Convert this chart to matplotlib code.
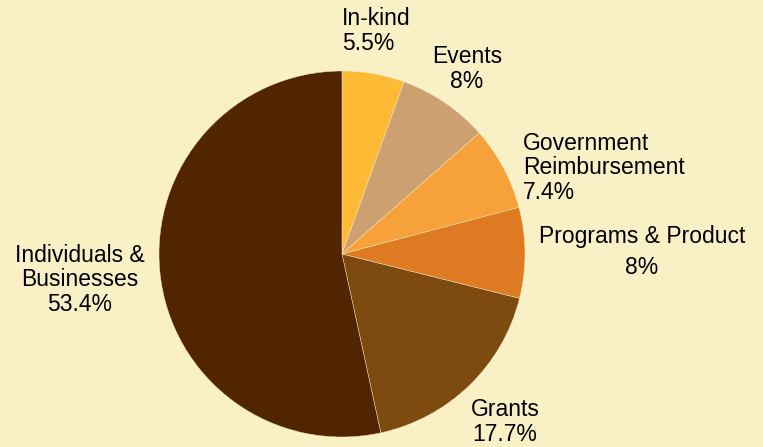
import matplotlib.pyplot as plt

# Revenue sources
sources = ['In-kind', 'Events', 'Government\nReimbursement', 'Programs & Product',
           'Grants', 'Individuals &\nBusinesses']
shares = [5.5, 8, 7.4, 8, 17.7, 53.4]
pct_labels = ['5.5%', '8%', '7.4%', '8%', '17.7%', '53.4%']
colors = ['#FDBA35', '#CCA070', '#F7A13A', '#DE7B22', '#7D4A0F', '#502500']

bg = '#FAF0C6'
plt.rcParams['font.family'] = ['Liberation Sans', 'DejaVu Sans']

fig = plt.figure(figsize=(7.63, 4.47), dpi=100, facecolor=bg)
ax = fig.add_axes([159 / 763, 10 / 447, 366 / 763, 366 / 447])
ax.set_facecolor(bg)
ax.pie(shares, colors=colors, startangle=90, counterclock=False, radius=1,
       wedgeprops={'edgecolor': bg, 'linewidth': 0.3})
ax.set_xlim(-1, 1)
ax.set_ylim(-1, 1)
ax.axis('off')

fs = 16.5
# label placement in pixels (x, y top-down, ha)
spots = [(342, 31, 'left'), (467, 69, 'center'), (523, 168, 'left'),
         (642, 252, 'center'), (505, 422, 'center'), (80, 280, 'center')]
for name, pct, (x, y, ha) in zip(sources, pct_labels, spots):
    if name.startswith('Programs'):
        fig.text(x / 763, 1 - 237 / 447, name, ha='center', va='center', fontsize=fs)
        fig.text(x / 763, 1 - 268 / 447, pct, ha='center', va='center', fontsize=fs)
    else:
        fig.text(x / 763, 1 - y / 447, name + '\n' + pct, ha=ha, va='center',
                 fontsize=fs, linespacing=1.1, multialignment=ha)

fig.savefig('out.png', dpi=100, facecolor=bg)
